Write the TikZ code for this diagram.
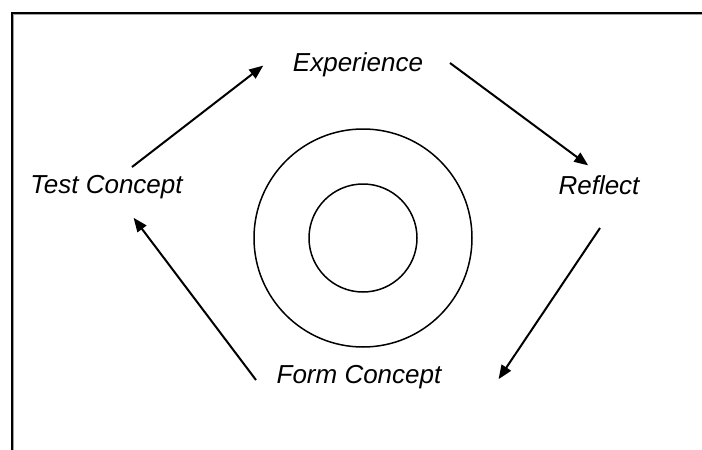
\documentclass[tikz,border=0pt]{standalone}
\usepackage{fontspec}
\setmainfont{Liberation Sans}
\usetikzlibrary{arrows.meta}
\definecolor{cycleshadow}{HTML}{A0A0A0}

\begin{document}
\begin{tikzpicture}[x=1pt, y=-1pt,
  stage/.style={anchor=base, inner sep=0pt, font=\fontsize{26}{30}\selectfont\itshape},
  arrow/.style={-{Triangle[length=14pt,width=11pt]}, line width=2pt, shorten >=1pt}
]
\useasboundingbox (0,0) rectangle (702,450);
% frame
\draw[cycleshadow, line width=1.5pt] (13.6,450) -- (13.6,14.6) -- (702,14.6);
\draw[line width=2pt] (11.8,450) -- (11.8,12.6) -- (702,12.6);
% stages
\node[stage] (exp) at (358,71) {Experience};
\node[stage] (refl) at (599,194) {Reflect};
\node[stage] (form) at (359,383) {Form Concept};
\node[stage] (test) at (106.5,193) {Test Concept};
% rings
\draw[line width=1.5pt] (363,238) circle[radius=109pt];
\draw[line width=1.5pt] (363,238) circle[radius=54pt];
% cycle
\draw[arrow] ([shift={(25.5,-26)}]test.base) -- ([shift={(-94,-6)}]exp.base);
\draw[arrow] ([shift={(92,-8)}]exp.base) -- ([shift={(-10,-28)}]refl.base);
\draw[arrow] ([shift={(1,34)}]refl.base) -- ([shift={(139,-3)}]form.base);
\draw[arrow] ([shift={(-103,-3)}]form.base) -- ([shift={(26.5,24)}]test.base);
\end{tikzpicture}
\end{document}
